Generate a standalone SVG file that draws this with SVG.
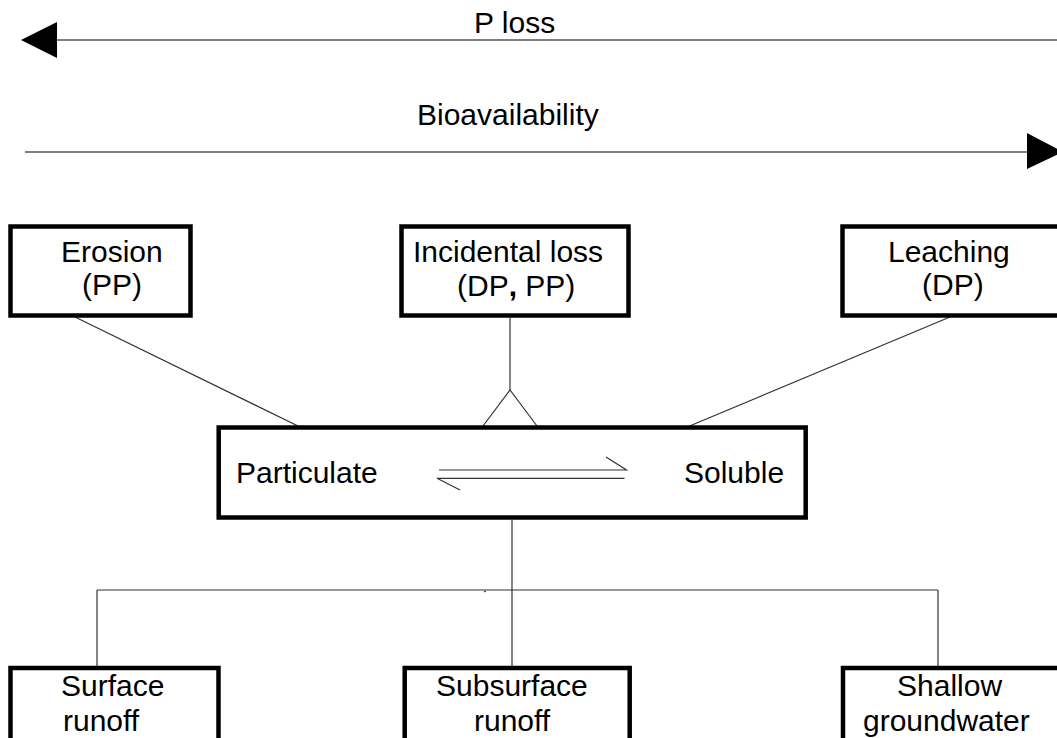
<svg xmlns="http://www.w3.org/2000/svg" width="1057" height="738" viewBox="0 0 1057 738">
  <style>
    .box { fill: #ffffff; stroke: #000000; stroke-width: 4.5; }
    .lbl { font-family: "Liberation Sans", Arial, sans-serif; font-size: 30px; fill: #000000; }
    .con { fill: none; stroke: #333333; stroke-width: 1.2; }
    .axis { fill: none; stroke: #555555; stroke-width: 1.6; }
    .head { fill: #000000; stroke: none; }
  </style>
  <rect x="0" y="0" width="1057" height="738" fill="#ffffff"/>

  <!-- scale arrows -->
  <g id="axes">
    <line class="axis" x1="57" y1="40" x2="1057" y2="40"/>
    <polygon class="head" points="21,40 57,22 57,58"/>
    <text class="lbl" x="474" y="33">P loss</text>
    <line class="axis" x1="25" y1="152" x2="1027" y2="152"/>
    <polygon class="head" points="1027,133 1063,152 1027,169"/>
    <text class="lbl" x="417" y="125">Bioavailability</text>
  </g>

  <!-- connectors -->
  <g id="connectors">
    <line class="con" x1="75" y1="317" x2="298" y2="426"/>
    <line class="con" x1="510" y1="318" x2="510" y2="390"/>
    <polyline class="con" points="483,426 510,390 537,426"/>
    <line class="con" x1="950" y1="317" x2="680" y2="430"/>
    <line class="con" x1="512" y1="520" x2="512" y2="590"/>
    <line class="con" x1="97" y1="590" x2="938" y2="590"/>
    <line class="con" x1="97" y1="590" x2="97" y2="666"/>
    <line class="con" x1="512" y1="590" x2="512" y2="666"/>
    <line class="con" x1="938" y1="590" x2="938" y2="666"/>
    <line class="con" x1="484" y1="592" x2="486" y2="591"/>
  </g>

  <!-- source nodes -->
  <g id="erosion">
    <rect class="box" x="10.5" y="226.5" width="180" height="89"/>
    <text class="lbl" x="61" y="262">Erosion</text>
    <text class="lbl" x="82" y="295">(PP)</text>
  </g>
  <g id="incidental-loss">
    <rect class="box" x="401.5" y="226.5" width="227" height="89"/>
    <text class="lbl" x="413" y="262">Incidental loss</text>
    <text class="lbl" x="457" y="296">(DP<tspan font-weight="bold">,</tspan> PP)</text>
  </g>
  <g id="leaching">
    <rect class="box" x="842.5" y="226.5" width="230" height="89"/>
    <text class="lbl" x="888" y="262">Leaching</text>
    <text class="lbl" x="922" y="295">(DP)</text>
  </g>

  <!-- central pool -->
  <g id="pool">
    <rect class="box" x="218.7" y="427.5" width="587" height="90"/>
    <text class="lbl" x="236" y="483">Particulate</text>
    <text class="lbl" x="684" y="483">Soluble</text>
    <g class="con" stroke="#000000">
      <polyline points="439,470 626.5,470 606,457"/>
      <polyline points="624.5,478.3 437,478.3 460,490"/>
    </g>
  </g>

  <!-- pathway nodes -->
  <g id="surface-runoff">
    <rect class="box" x="10.5" y="668" width="208" height="90"/>
    <text class="lbl" x="61" y="696">Surface</text>
    <text class="lbl" x="63" y="731">runoff</text>
  </g>
  <g id="subsurface-runoff">
    <rect class="box" x="404.7" y="668" width="225" height="90"/>
    <text class="lbl" x="436" y="696">Subsurface</text>
    <text class="lbl" x="474" y="731">runoff</text>
  </g>
  <g id="shallow-groundwater">
    <rect class="box" x="843" y="668" width="230" height="90"/>
    <text class="lbl" x="897" y="696">Shallow</text>
    <text class="lbl" x="863" y="731">groundwater</text>
  </g>
</svg>
